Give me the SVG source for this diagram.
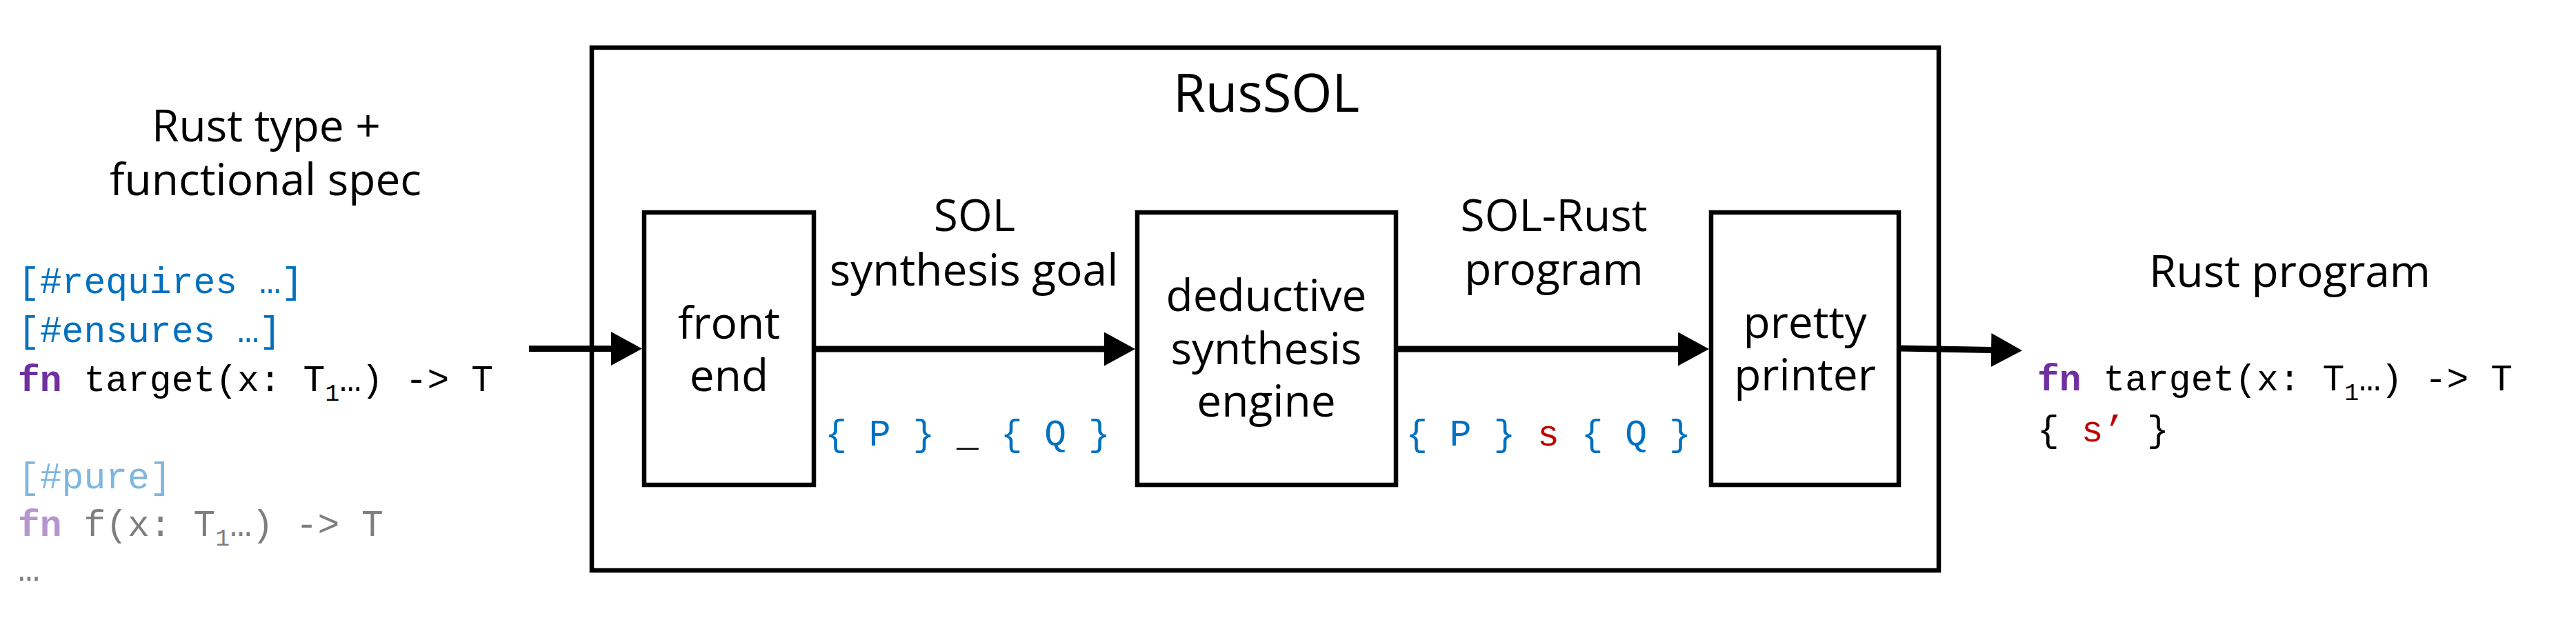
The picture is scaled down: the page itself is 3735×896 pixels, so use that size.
<svg xmlns="http://www.w3.org/2000/svg" width="3735" height="896" viewBox="0 0 3735 896">
  <defs>
    <style>
      .box { fill: #ffffff; stroke: #000000; stroke-width: 6.5; }
      .lbl { font-family: "Open Sans", "Liberation Sans", sans-serif; font-size: 64px; fill: #000000; text-anchor: middle; }
      .title { font-family: "Open Sans", "Liberation Sans", sans-serif; font-size: 76px; fill: #000000; text-anchor: middle; }
      .code { font-family: "Liberation Mono", "DejaVu Sans Mono", monospace; font-size: 53px; fill: #000000; }
      .kw { fill: #7030A0; font-weight: bold; }
      .spec { fill: #0070C0; }
      .red { fill: #C00000; }
      .faded { opacity: 0.5; }
      .edge { fill: none; stroke: #000000; stroke-width: 9; marker-end: url(#head); }
    </style>
    <marker id="head" markerUnits="userSpaceOnUse" viewBox="0 0 45 49" refX="1" refY="24.5" markerWidth="45" markerHeight="49" orient="auto">
      <path d="M0,0 L45,24.5 L0,49 Z" fill="#000000"/>
    </marker>
  </defs>

  <g id="node-input">
    <text class="lbl" x="386" y="205">Rust type +</text>
    <text class="lbl" x="385" y="283">functional spec</text>
    <text class="code spec" x="26" y="425">[#requires …]</text>
    <text class="code spec" x="26" y="496">[#ensures …]</text>
    <text class="code" x="26" y="567"><tspan class="kw">fn</tspan> target(x: T<tspan font-size="35" dy="14">1</tspan><tspan dy="-14">…) -&gt; T</tspan></text>
    <g class="faded">
      <text class="code spec" x="26" y="708">[#pure]</text>
      <text class="code" x="26" y="777"><tspan class="kw">fn</tspan> f(x: T<tspan font-size="35" dy="14">1</tspan><tspan dy="-14">…) -&gt; T</tspan></text>
      <text class="code" x="26" y="842">…</text>
    </g>
  </g>

  <g id="node-russol">
    <rect class="box" x="858" y="69" width="1953" height="758"/>
    <text class="title" x="1836" y="162">RusSOL</text>
  </g>

  <g id="node-frontend">
    <rect class="box" x="934" y="308" width="246" height="395"/>
    <text class="lbl" x="1057" y="491">front</text>
    <text class="lbl" x="1057" y="567">end</text>
  </g>

  <g id="node-deductive">
    <rect class="box" x="1649" y="308" width="375" height="395"/>
    <text class="lbl" x="1836" y="451">deductive</text>
    <text class="lbl" x="1836" y="528">synthesis</text>
    <text class="lbl" x="1836" y="604">engine</text>
  </g>

  <g id="node-pretty">
    <rect class="box" x="2481" y="308" width="272" height="395"/>
    <text class="lbl" x="2617" y="490">pretty</text>
    <text class="lbl" x="2617" y="566">printer</text>
  </g>

  <g id="node-output">
    <text class="lbl" x="3320" y="416">Rust program</text>
    <text class="code" x="2954" y="566"><tspan class="kw">fn</tspan> target(x: T<tspan font-size="35" dy="14">1</tspan><tspan dy="-14">…) -&gt; T</tspan></text>
    <text class="code" x="2954" y="640">{ <tspan class="red">s’</tspan> }</text>
  </g>

  <g id="connectors">
    <path class="edge" d="M767,505.5 H887"/>
    <path class="edge" d="M1180,506 H1602"/>
    <path class="edge" d="M2024,506 H2434"/>
    <path class="edge" d="M2753,505 L2888,507.5"/>
  </g>

  <g id="edge-labels">
    <text class="lbl" x="1413" y="335">SOL</text>
    <text class="lbl" x="1412" y="414">synthesis goal</text>
    <text class="code" x="1403" y="646" text-anchor="middle"><tspan class="spec">{ P }</tspan> _ <tspan class="spec">{ Q }</tspan></text>
    <text class="lbl" x="2253" y="335">SOL-Rust</text>
    <text class="lbl" x="2253" y="413">program</text>
    <text class="code" x="2245" y="646" text-anchor="middle"><tspan class="spec">{ P }</tspan> <tspan class="red">s</tspan> <tspan class="spec">{ Q }</tspan></text>
  </g>
</svg>
